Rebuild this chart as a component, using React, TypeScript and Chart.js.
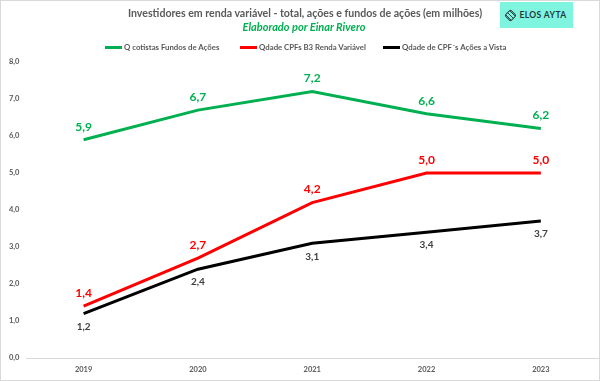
import React, { useEffect, useRef } from "react";
import { Chart, registerables } from "chart.js";

Chart.register(...registerables);

const years = ["2019", "2020", "2021", "2022", "2023"];
const cotistasFundos = [5.9, 6.7, 7.2, 6.6, 6.2];
const cpfsRendaVariavel = [1.4, 2.7, 4.2, 5.0, 5.0];
const cpfsAcoesVista = [1.2, 2.4, 3.1, 3.4, 3.7];
const yTicks = [0, 1, 2, 3, 4, 5, 6, 7, 8];

const seriesNames = [
  "Q cotistas Fundos de Ações",
  "Qdade CPFs B3 Renda Variável",
  "Qdade de CPF´s Ações a Vista",
];
const seriesColors = ["#00b050", "#ff0000", "#000000"];

const FONT = "Lato, 'Open Sans', sans-serif";

const fmt = (v: number) => v.toFixed(1).replace(".", ",");

const labelPlugin = {
  id: "pointLabels",
  afterDatasetsDraw(chart: any) {
    const ctx = chart.ctx;
    chart.data.datasets.forEach((ds: any, i: number) => {
      const meta = chart.getDatasetMeta(i);
      const below = ds.labelPos === "below";
      ctx.save();
      ctx.font = ds.labelFont;
      ctx.fillStyle = ds.labelColor;
      ctx.textAlign = "center";
      ctx.textBaseline = "middle";
      meta.data.forEach((pt: any, j: number) => {
        const y = below ? pt.y + 13 : pt.y - 13;
        ctx.fillText(fmt(ds.data[j]), pt.x, y);
      });
      ctx.restore();
    });
  },
};

const legendX = [105, 240, 383];

export default function App() {
  const ref = useRef<HTMLCanvasElement>(null);
  useEffect(() => {
    document.body.style.margin = "0";
    const chart = new Chart(ref.current!, {
      type: "line",
      data: {
        labels: years,
        datasets: [
          {
            label: seriesNames[0],
            data: cotistasFundos,
            borderColor: seriesColors[0],
            borderWidth: 3,
            pointRadius: 0,
            tension: 0,
            labelPos: "above",
            labelColor: "#00b050",
            labelFont: `bold 12px ${FONT}`,
          } as any,
          {
            label: seriesNames[1],
            data: cpfsRendaVariavel,
            borderColor: seriesColors[1],
            borderWidth: 3,
            pointRadius: 0,
            tension: 0,
            labelPos: "above",
            labelColor: "#ff0000",
            labelFont: `bold 12px ${FONT}`,
          } as any,
          {
            label: seriesNames[2],
            data: cpfsAcoesVista,
            borderColor: seriesColors[2],
            borderWidth: 3,
            pointRadius: 0,
            tension: 0,
            labelPos: "below",
            labelColor: "#404040",
            labelFont: `bold 10px ${FONT}`,
          } as any,
        ],
      },
      options: {
        animation: false,
        responsive: false,
        layout: { padding: { left: 2, right: 2, top: 62, bottom: 0 } },
        plugins: {
          title: { display: false },
          subtitle: { display: false },
          legend: { display: false },
          tooltip: { enabled: false },
        },
        scales: {
          x: {
            offset: true,
            grid: { display: false, drawTicks: false },
            border: { display: true, color: "#d9d9d9", width: 1 },
            ticks: {
              color: "#595959",
              font: { family: FONT, size: 7.5, weight: "bold" },
              padding: 7,
            },
          },
          y: {
            min: 0,
            max: 8,
            afterBuildTicks: (axis: any) => {
              axis.ticks = yTicks.map((v) => ({ value: v }));
            },
            grid: { display: false, drawTicks: false },
            border: { display: false },
            ticks: {
              color: "#595959",
              font: { family: FONT, size: 7.5, weight: "bold" },
              padding: 7,
              callback: (v: any) => fmt(Number(v)),
            },
          },
        },
      },
      plugins: [labelPlugin],
    });
    return () => chart.destroy();
  }, []);

  return (
    <div style={{ position: "relative", width: 600, height: 381, background: "#fff", overflow: "hidden" }}>
      <canvas ref={ref} width={600} height={381} style={{ display: "block" }} />
      <div
        style={{
          position: "absolute",
          left: 0,
          top: 0,
          width: 598,
          height: 379,
          border: "1px solid #d9d9d9",
          pointerEvents: "none",
        }}
      />
      <div
        style={{
          position: "absolute",
          left: 0,
          width: 610,
          top: 7,
          textAlign: "center",
          fontFamily: FONT,
          fontWeight: "bold",
          fontSize: 10.6,
          lineHeight: "13px",
          color: "#595959",
          whiteSpace: "nowrap",
        }}
      >
        Investidores em renda variável - total, ações e fundos de ações (em milhões)
      </div>
      <div
        style={{
          position: "absolute",
          left: 0,
          width: 608,
          top: 20,
          textAlign: "center",
          fontFamily: FONT,
          fontWeight: "bold",
          fontStyle: "italic",
          fontSize: 11,
          lineHeight: "14px",
          color: "#00b050",
          whiteSpace: "nowrap",
        }}
      >
        Elaborado por Einar Rivero
      </div>
      {seriesNames.map((name, i) => (
        <div
          key={name}
          style={{
            position: "absolute",
            left: legendX[i],
            top: 41,
            height: 12,
            display: "flex",
            alignItems: "center",
            fontFamily: FONT,
            fontWeight: "bold",
            fontSize: 7.8,
            color: "#595959",
            whiteSpace: "nowrap",
          }}
        >
          <span
            style={{
              display: "inline-block",
              width: 17,
              height: 3,
              background: seriesColors[i],
              marginRight: 2,
            }}
          />
          <span>{name}</span>
        </div>
      ))}
      <div
        style={{
          position: "absolute",
          left: 500,
          top: 2,
          width: 73,
          height: 26,
          background: "#7ff5e0",
          display: "flex",
          alignItems: "center",
          justifyContent: "center",
          gap: 4,
          fontFamily: FONT,
          fontWeight: "bold",
          fontSize: 8.5,
          color: "#1e3a3a",
          letterSpacing: 0.4,
        }}
      >
        <span
          style={{
            display: "inline-block",
            width: 9,
            height: 9,
            border: "1.5px solid #2a4a4a",
            borderRadius: 2,
            transform: "rotate(45deg)",
            boxSizing: "border-box",
            backgroundImage:
              "repeating-linear-gradient(0deg, #2a4a4a 0 1px, transparent 1px 3px)",
          }}
        />
        <span>ELOS AYTA</span>
      </div>
    </div>
  );
}
